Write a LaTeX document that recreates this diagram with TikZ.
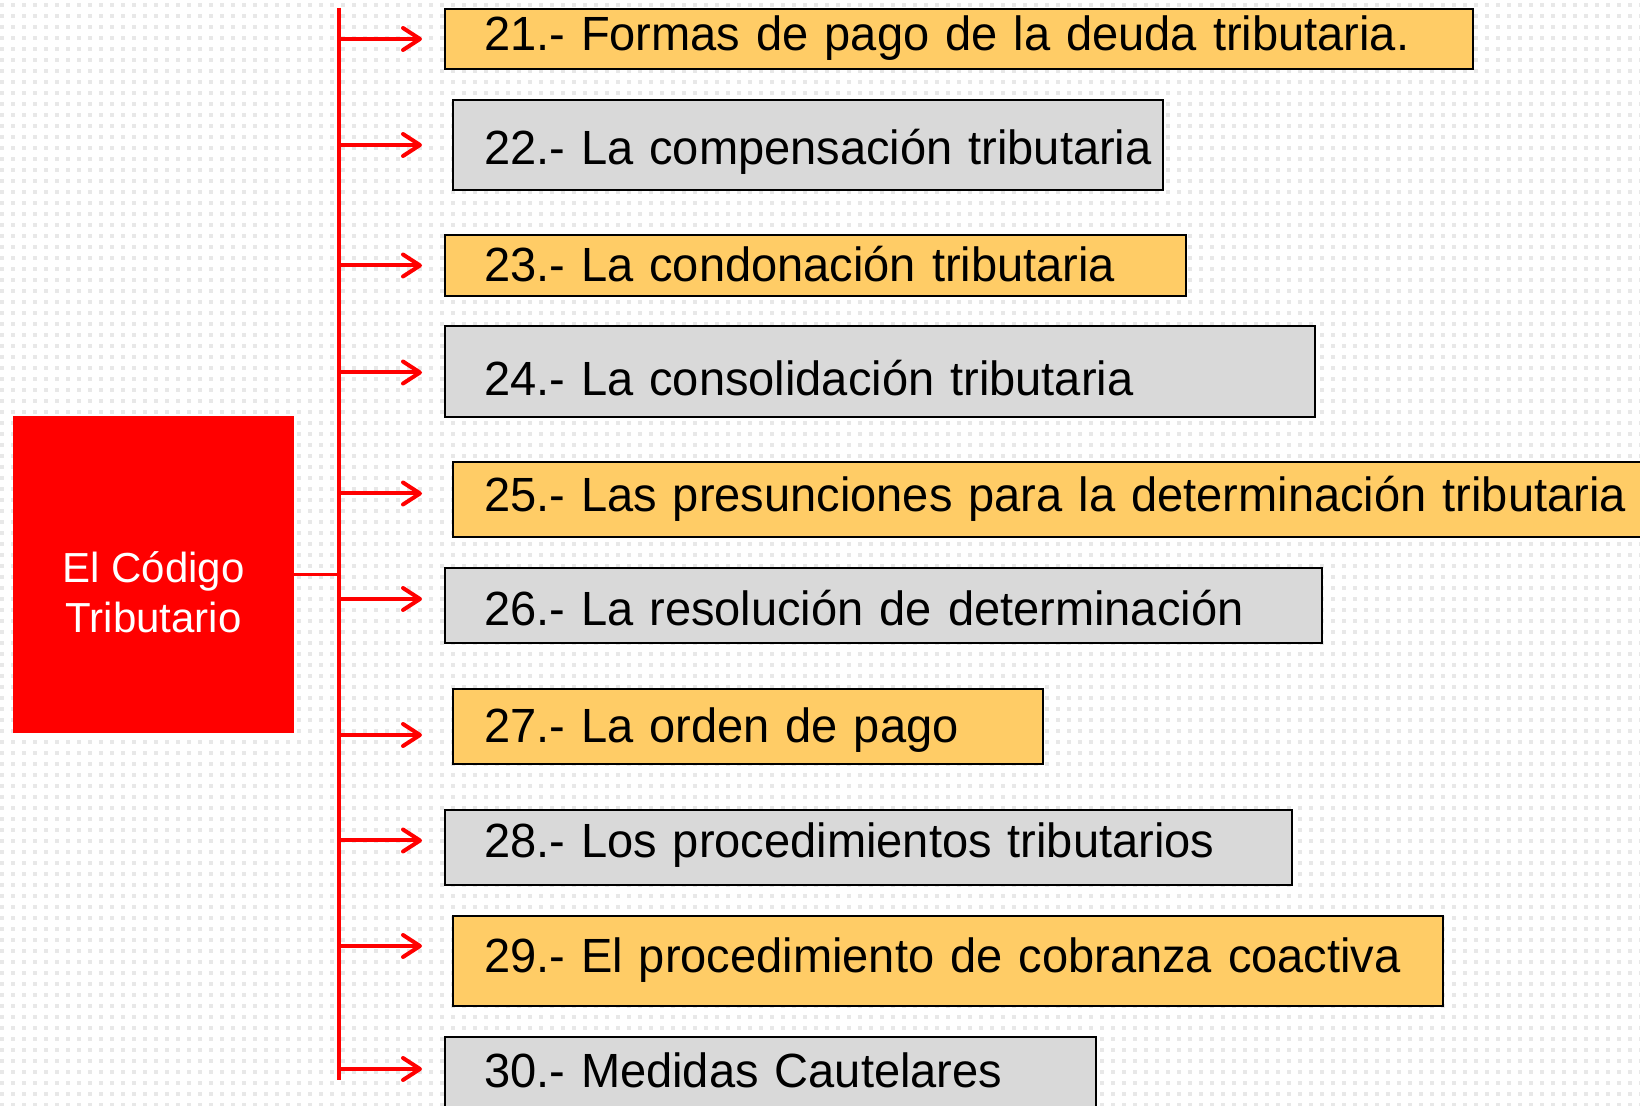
\documentclass[tikz,border=0pt]{standalone}
\usepackage{fontspec}
\setmainfont{Liberation Sans}
\newfontfamily\itemfont{Liberation Sans}[FakeStretch=0.98]
\usetikzlibrary{positioning,arrows.meta}
\definecolor{codered}{RGB}{255,0,0}
\definecolor{itemorange}{RGB}{255,204,102}
\definecolor{itemgray}{RGB}{217,217,217}
\definecolor{dotgray}{RGB}{232,232,232}
\tikzset{
  item/.style={draw=black, line width=1pt, anchor=north west, inner sep=0pt,
    align=left, text depth=0pt,
    font=\itemfont\fontsize{24}{28}\selectfont},
  lpad/.style={execute at begin node={\hspace*{#1}\hbox\bgroup},
    execute at end node={\egroup}},
  orangeitem/.style={item, fill=itemorange},
  grayitem/.style={item, fill=itemgray},
  codebox/.style={fill=codered, text=white, minimum width=140.5pt,
    minimum height=158.5pt, inner sep=0pt, align=center,
    font=\fontsize{21}{25}\selectfont},
  trunkline/.style={codered, line width=2pt},
  stemline/.style={codered, line width=1.5pt},
  branch/.style={codered, line width=2pt,
    -{Straight Barb[length=8.5pt,width=11pt,round]}},
  dotrow/.style={dotgray, line width=2pt, dash pattern=on 2pt off 3.5pt},
}
\begin{document}
\begin{tikzpicture}[x=0.5pt,y=-0.5pt]
  \useasboundingbox (0,0) rectangle (1640,1106);
  \clip (0,0) rectangle (1640,1106);
  % dotted background
  \foreach \r in {0,...,100}
    \draw[dotrow] (0,5+11*\r) -- (1640,5+11*\r);

  \node[codebox] (code) at (153.5,574.5) {\rule{0pt}{33pt}El Código\\Tributario};

  \node[orangeitem, lpad=19.5pt, text width=514pt, minimum height=30pt, text height=11.5pt] (b21) at (444,8)
    {21.- Formas de pago de la deuda tributaria.};
  \node[grayitem, lpad=15.5pt, text width=355pt, minimum height=45pt, text height=20pt] (b22) at (452,99)
    {22.- La compensación tributaria};
  \node[orangeitem, lpad=19.5pt, text width=370.5pt, minimum height=30.5pt, text height=16pt] (b23) at (444,234)
    {23.- La condonación tributaria};
  \node[grayitem, lpad=19.5pt, text width=435pt, minimum height=45.5pt, text height=24.5pt] (b24) at (444,325)
    {24.- La consolidación tributaria};
  \node[orangeitem, lpad=15.5pt, text width=610pt, minimum height=37.5pt, text height=11.5pt] (b25) at (452,461.5)
    {25.- Las presunciones para la determinación tributaria};
  \node[grayitem, lpad=19.5pt, text width=438.5pt, minimum height=37.5pt, text height=20pt] (b26) at (444,567.5)
    {26.- La resolución de determinación};
  \node[orangeitem, lpad=15.5pt, text width=295pt, minimum height=37.5pt, text height=16pt] (b27) at (452,688.5)
    {27.- La orden de pago};
  \node[grayitem, lpad=19.5pt, text width=423.5pt, minimum height=37.5pt, text height=9.5pt] (b28) at (444,809)
    {28.- Los procedimientos tributarios};
  \node[orangeitem, lpad=15.5pt, text width=495pt, minimum height=45pt, text height=11.5pt] (b29) at (452,915)
    {29.- El procedimiento de cobranza coactiva};
  \node[grayitem, lpad=19.5pt, text width=325.5pt, minimum height=38pt, text height=12pt] (b30) at (444,1036)
    {30.- Medidas Cautelares};

  % red tree
  \coordinate (trunktop) at (339,8);
  \coordinate (trunkbot) at (339,1080);
  \coordinate (tips) at (422,0);
  \draw[trunkline] (trunktop) -- (trunkbot);
  \draw[stemline] (code.east) -- (code.east -| trunktop);
  \foreach \b/\dy in {b21/0,b22/0,b23/0,b24/-0.5,b25/3.25,b26/3.5,b27/-4,b28/3.5,b29/7.5,b30/3}
    \draw[branch] ([yshift=\dy pt]\b.west -| trunktop) -- ([yshift=\dy pt]\b.west -| tips);
\end{tikzpicture}
\end{document}
